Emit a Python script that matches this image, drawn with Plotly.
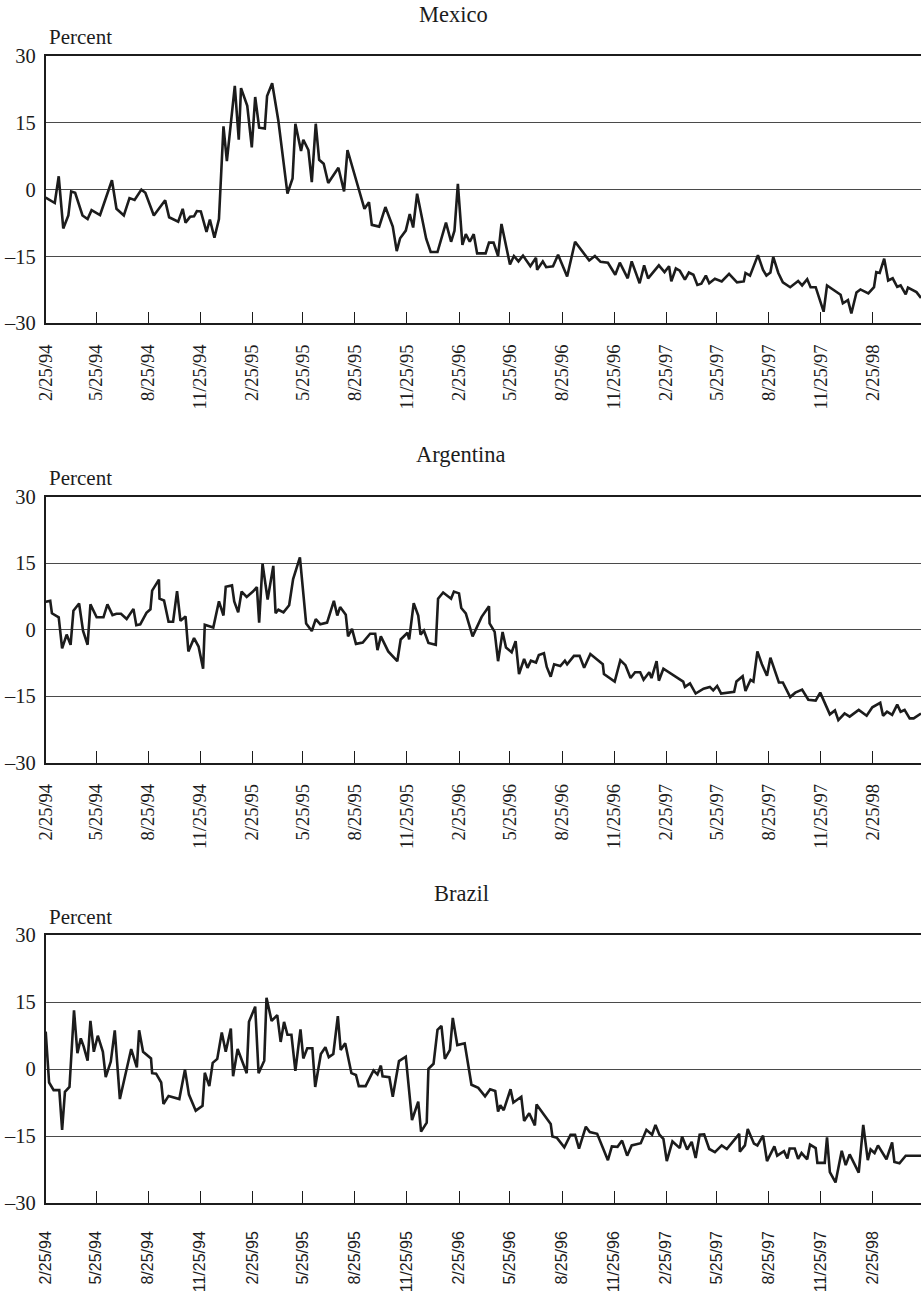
import pandas as pd
import plotly.graph_objects as go

# Weekly exchange-rate deviation series, in percent.
# x values are days elapsed since the first observation.
START = "1994-02-25"
X_END = "1998-05-21"

TICK_LABELS = ["2/25/94", "5/25/94", "8/25/94", "11/25/94", "2/25/95", "5/25/95",
               "8/25/95", "11/25/95", "2/25/96", "5/25/96", "8/25/96", "11/25/96",
               "2/25/97", "5/25/97", "8/25/97", "11/25/97", "2/25/98"]
Y_TICKS = [-30, -15, 0, 15, 30]
Y_TICK_TEXT = ["\u201330", "\u201315", "0", "15", "30"]

MX_DAY = [0, 16, 23, 31, 40, 45, 52, 65, 74, 81, 96, 117, 125, 138, 148, 157, 169, 176, 191, 211,
          218, 234, 242, 247, 255, 262, 267, 274, 284, 290, 298, 306, 314, 320, 334, 341, 345, 356, 364, 370,
          377, 387, 391, 400, 411, 418, 427, 436, 441, 451, 455, 464, 470, 477, 483, 491, 499, 517, 527, 533,
          563, 571, 576, 589, 600, 613, 620, 626, 636, 643, 649, 656, 672, 680, 692, 707, 716, 722, 728, 736,
          742, 749, 756, 762, 777, 783, 791, 799, 805, 820, 827, 835, 843, 856, 866, 868, 878, 884, 896, 905,
          921, 935, 960, 970, 980, 993, 1006, 1014, 1028, 1035, 1049, 1057, 1064, 1083, 1093, 1101, 1105, 1113,
          1120, 1129, 1136, 1144, 1151, 1158, 1166, 1172, 1182, 1194, 1207, 1221, 1233, 1236, 1244, 1258, 1267,
          1273, 1280, 1285, 1294, 1302, 1315, 1329, 1336, 1345, 1351, 1360, 1374, 1380, 1404, 1408, 1417, 1423,
          1432, 1439, 1453, 1463, 1467, 1473, 1481, 1488, 1496, 1504, 1510, 1519, 1523, 1538, 1546]
MX_VAL = [-1.8, -3.0, 3.0, -8.7, -5.8, -0.4, -0.7, -5.8, -6.6, -4.6, -5.7, 2.1, -4.3, -5.8, -1.9, -2.3,
          0.0, -0.7, -5.8, -2.4, -6.2, -7.2, -4.3, -7.4, -6.1, -6.0, -4.8, -4.9, -9.5, -6.7, -10.8, -6.6,
          14.2, 6.4, 23.3, 11.2, 22.8, 18.8, 9.5, 20.8, 13.9, 13.7, 21.0, 23.9, 15.4, 7.8, -0.9, 2.5, 14.8,
          8.7, 11.2, 8.9, 1.7, 14.8, 6.7, 5.8, 1.5, 4.9, -0.4, 8.9, -4.3, -2.8, -7.9, -8.3, -3.9, -8.3,
          -13.8, -10.9, -9.2, -5.5, -8.5, -0.9, -11.0, -14.0, -14.0, -7.4, -11.7, -9.2, 1.3, -12.4, -10.0,
          -11.7, -10.0, -14.3, -14.3, -11.9, -11.9, -14.9, -7.7, -16.8, -14.9, -16.1, -14.8, -17.2, -15.3,
          -18.0, -16.1, -17.4, -17.2, -14.6, -19.5, -11.7, -15.9, -14.9, -16.2, -16.4, -19.1, -16.4, -19.9,
          -16.1, -21.0, -17.0, -19.9, -17.0, -18.5, -17.2, -20.6, -17.7, -18.2, -20.2, -18.6, -19.1, -21.4,
          -21.1, -19.3, -21.0, -20.0, -20.6, -18.9, -20.8, -20.6, -18.7, -19.3, -14.7, -18.0, -19.3, -18.6,
          -15.1, -18.7, -20.8, -21.9, -20.5, -21.5, -20.1, -21.9, -21.9, -27.4, -21.5, -23.6, -25.5, -24.8,
          -27.8, -23.1, -22.4, -23.3, -21.9, -18.5, -18.7, -15.5, -20.4, -19.9, -21.8, -21.5, -23.5, -22.0,
          -23.0, -24.3]

AR_DAY = [0, 8, 11, 16, 23, 29, 37, 44, 49, 59, 66, 74, 79, 90, 102, 109, 118, 125, 133, 143,
          155, 160, 167, 178, 185, 188, 200, 201, 209, 217, 225, 232, 238, 247, 252, 262, 270, 278, 281, 296,
          306, 314, 318, 329, 333, 340, 346, 355, 366, 373, 377, 383, 392, 402, 406, 411, 420, 430, 437, 449,
          460, 470, 477, 485, 497, 509, 515, 520, 530, 534, 541, 548, 560, 573, 582, 586, 592, 605, 621, 627,
          639, 642, 650, 658, 662, 668, 676, 689, 693, 702, 716, 721, 730, 734, 742,
          754, 770, 783, 784, 793, 799, 807, 813, 823, 830, 836, 845, 851, 857, 866, 871, 880, 885, 892, 898,
          909, 917, 921, 933, 943, 951, 962, 974, 984, 986, 1005, 1015, 1024, 1033, 1041, 1050, 1056, 1066,
          1070, 1079, 1083, 1091, 1117, 1126, 1129, 1138, 1148, 1162, 1173, 1179, 1186, 1193, 1216, 1220,
          1231, 1236, 1245, 1250, 1257, 1265, 1274, 1280, 1295, 1302, 1315, 1324, 1336, 1347, 1360, 1368,
          1385, 1394, 1400, 1411, 1420, 1436, 1450, 1460, 1474, 1479, 1486, 1495, 1504, 1510, 1517, 1526,
          1533, 1546]
AR_VAL = [6.3, 6.5, 3.7, 3.3, 2.8, -4.2, -1.1, -3.4, 4.3, 5.9, -0.3, -3.4, 5.7, 2.8, 2.8, 5.7, 3.3, 3.6,
          3.6, 2.4, 4.7, 1.0, 1.2, 3.8, 4.6, 8.8, 11.3, 7.0, 6.6, 1.8, 1.8, 8.7, 2.0, 3.0, -4.9, -1.9, -3.8,
          -8.8, 1.1, 0.5, 6.4, 3.2, 9.7, 10.0, 6.4, 3.9, 8.6, 7.4, 8.6, 9.6, 1.6, 14.9, 6.8, 14.4, 3.7, 4.5,
          3.9, 5.5, 11.4, 16.3, 1.4, -0.3, 2.4, 1.2, 1.6, 6.5, 3.2, 5.1, 3.4, -1.5, 0.2, -3.2, -2.9, -0.9,
          -0.9, -4.6, -1.5, -4.9, -7.1, -2.2, -0.7, -2.2, 6.0, 3.2, -1.1, -0.2, -3.0, -3.4, 7.0, 8.4, 7.0,
          8.6, 8.2, 4.9, 3.7,
          -1.5, 2.9, 5.3, 1.4, -0.5, -7.1, -0.5, -4.0, -5.1, -2.6, -10.0, -6.6, -8.6, -7.0, -7.4, -5.7, -5.3,
          -8.4, -10.6, -7.8, -8.2, -7.0, -7.8, -5.9, -5.9, -8.6, -5.5, -6.7, -7.8, -10.0, -11.7, -6.9, -8.0,
          -10.9, -9.6, -9.6, -11.3, -9.6, -10.9, -7.1, -11.5, -8.8, -10.9, -11.7, -12.9, -12.1, -14.4, -13.3,
          -12.9, -13.7, -12.7, -14.4, -14.0, -11.7, -10.5, -13.8, -11.3, -11.7, -4.9, -7.8, -10.4, -6.3,
          -11.9, -11.9, -15.2, -14.2, -13.5, -15.8, -16.0, -14.2, -19.1, -18.2, -20.4, -18.9, -19.6, -18.1,
          -19.4, -17.5, -16.5, -19.4, -18.5, -19.2, -16.9, -18.5, -18.1, -20.0, -20.0, -18.9]

BR_DAY = [0, 6, 14, 24, 29, 34, 42, 50, 56, 62, 67, 74, 79, 85, 92, 101, 106, 115, 122, 131,
          151, 161, 165, 172, 186, 188, 195, 204, 208, 217, 236, 246, 253, 265, 277, 281, 289, 295, 303, 311,
          318, 327, 331, 339, 355, 359, 370, 376, 386, 390, 399, 409, 415, 421, 427, 434, 441, 450, 455, 462,
          471, 476, 486, 494, 500, 508, 516, 521, 529, 540, 548, 553, 565, 579, 586, 592, 595, 607, 613, 624,
          636, 647, 658, 663, 673, 676, 685, 692, 699, 705, 714, 719, 727, 740,
          752, 764, 776, 785, 794, 799, 803, 809, 821, 826, 840, 845, 854, 864, 867, 892, 895, 903, 916, 927,
          935, 942, 954, 961, 974, 993, 1000, 1010, 1018, 1027, 1035, 1051, 1061, 1071, 1077, 1084, 1091, 1097,
          1107, 1120, 1124, 1133, 1141, 1148, 1155, 1163, 1172, 1182, 1194, 1203, 1225, 1226, 1235, 1240,
          1251, 1257, 1267, 1274, 1287, 1292, 1304, 1310, 1314, 1323, 1329, 1335, 1345, 1350, 1360, 1363,
          1376, 1380, 1385, 1395, 1406, 1413, 1420, 1436, 1444, 1452, 1457, 1464, 1470, 1485, 1495, 1499,
          1508, 1519, 1546]
BR_VAL = [8.4, -3.0, -4.7, -4.7, -13.6, -5.1, -4.0, 13.2, 3.6, 6.9, 5.1, 1.9, 10.8, 3.9, 7.5, 3.9, -1.8,
          1.7, 8.7, -6.7, 4.5, 0.4, 8.7, 3.9, 2.4, -0.9, -1.0, -3.0, -7.8, -6.0, -6.7, -0.1, -5.7, -9.3,
          -8.2, -0.8, -3.8, 1.4, 2.3, 8.2, 3.9, 9.1, -1.6, 4.5, -0.9, 10.6, 14.0, -0.9, 1.9, 16.0, 10.8, 12.1,
          6.1, 10.6, 7.7, 7.7, -0.4, 8.9, 2.4, 4.7, 4.7, -4.0, 3.4, 4.9, 2.7, 3.4, 11.9, 4.3, 5.8, -0.9,
          -1.3, -3.8, -3.8, -0.3, -1.2, 0.8, -1.6, -1.8, -6.2, 1.8, 2.8, -11.4, -7.3, -14.0, -12.0, 0.1, 1.2,
          8.8, 9.7, 2.3, 4.3, 11.5, 5.4, 5.8,
          -3.5, -4.2, -6.1, -4.5, -4.9, -9.5, -8.1, -9.2, -4.5, -7.5, -6.2, -11.6, -9.9, -12.6, -7.9, -12.3,
          -15.1, -15.4, -17.5, -14.7, -14.7, -17.8, -12.9, -14.1, -14.5, -20.4, -17.3, -17.4, -16.0, -19.4,
          -17.1, -16.6, -13.6, -14.7, -12.5, -14.7, -15.6, -20.6, -16.2, -17.7, -15.1, -18.0, -16.3, -19.9,
          -14.7, -14.6, -17.9, -18.6, -17.1, -17.9, -14.5, -18.5, -17.1, -13.4, -16.7, -17.1, -14.9, -20.6,
          -17.3, -19.4, -18.4, -20.0, -17.8, -17.8, -20.1, -18.8, -20.2, -16.9, -17.7, -21.0, -21.0, -15.3,
          -23.1, -25.4, -18.3, -21.5, -19.1, -23.2, -12.5, -20.4, -18.0, -18.8, -17.1, -20.2, -16.4, -20.8,
          -21.1, -19.4, -19.4]

COUNTRIES = ["Mexico", "Argentina", "Brazil"]
SERIES = [(MX_DAY, MX_VAL), (AR_DAY, AR_VAL), (BR_DAY, BR_VAL)]

W, H = 921, 1295
SERIF = "'Liberation Serif', 'Times New Roman', Times, 'DejaVu Serif', serif"
SANS = "'Liberation Sans', Arial, Helvetica, sans-serif"
INK = "#1c1c1c"
GRID = "#4a4a4a"

# panel geometry in pixels: (plot top, plot bottom, title centre x, title y, label y)
PANELS = [
    (56.0, 323.3, 453.5, 15, 37),
    (496.7, 762.7, 461, 455, 478),
    (935.3, 1203.0, 461, 893, 917),
]
PLOT_LEFT = 45.7

start = pd.Timestamp(START)
tick_vals = pd.to_datetime(TICK_LABELS, format="%m/%d/%y")

fig = go.Figure()
layout = dict(
    width=W, height=H,
    margin=dict(l=0, r=0, t=0, b=0),
    paper_bgcolor="white", plot_bgcolor="white",
    showlegend=False,
    template="none",
    font=dict(family=SERIF, color=INK),
    annotations=[],
)

for i, (name, (days, vals)) in enumerate(zip(COUNTRIES, SERIES)):
    n = "" if i == 0 else str(i + 1)
    dates = start + pd.to_timedelta(days, unit="D")
    fig.add_trace(go.Scatter(
        x=dates, y=vals, mode="lines",
        line=dict(color=INK, width=2.6),
        xaxis="x" + n, yaxis="y" + n,
        hoverinfo="skip",
    ))
    top, bot, tx, ty, ly = PANELS[i]
    is_brazil = name == "Brazil"
    tick_font = dict(family=SANS if is_brazil else SERIF,
                     size=16 if is_brazil else 18.5, color=INK)
    layout["xaxis" + n] = dict(
        domain=[PLOT_LEFT / W, 1], anchor="y" + n,
        range=[start, pd.Timestamp(X_END)],
        tickmode="array", tickvals=tick_vals, ticktext=TICK_LABELS,
        tickangle=-90, tickfont=tick_font,
        ticks="inside", ticklen=12, tickwidth=1.2, tickcolor=INK,
        ticklabelstandoff=20 if is_brazil else 12,
        showline=True, linecolor=INK, linewidth=1.6, mirror=True,
        showgrid=False, zeroline=False, automargin=False,
    )
    layout["yaxis" + n] = dict(
        domain=[1 - bot / H, 1 - top / H], anchor="x" + n,
        range=[-30, 30],
        tickmode="array", tickvals=Y_TICKS, ticktext=Y_TICK_TEXT,
        tickfont=dict(family=SERIF, size=20.5, color=INK),
        ticks="", ticklabelstandoff=4,
        showline=True, linecolor=INK, linewidth=1.6,
        showgrid=True, gridcolor=GRID, gridwidth=1.4,
        zeroline=False, automargin=False,
    )
    layout["annotations"].append(dict(
        text=name, xref="paper", yref="paper", x=tx / W, y=1 - ty / H,
        xanchor="center", yanchor="middle", showarrow=False,
        font=dict(family=SERIF, size=22.5, color=INK),
    ))
    layout["annotations"].append(dict(
        text="Percent", xref="paper", yref="paper", x=(PLOT_LEFT + 1) / W, y=1 - ly / H,
        xanchor="left", yanchor="middle", showarrow=False,
        font=dict(family=SERIF, size=21, color=INK),
    ))

fig.update_layout(**layout)
fig.write_html("out.html")
